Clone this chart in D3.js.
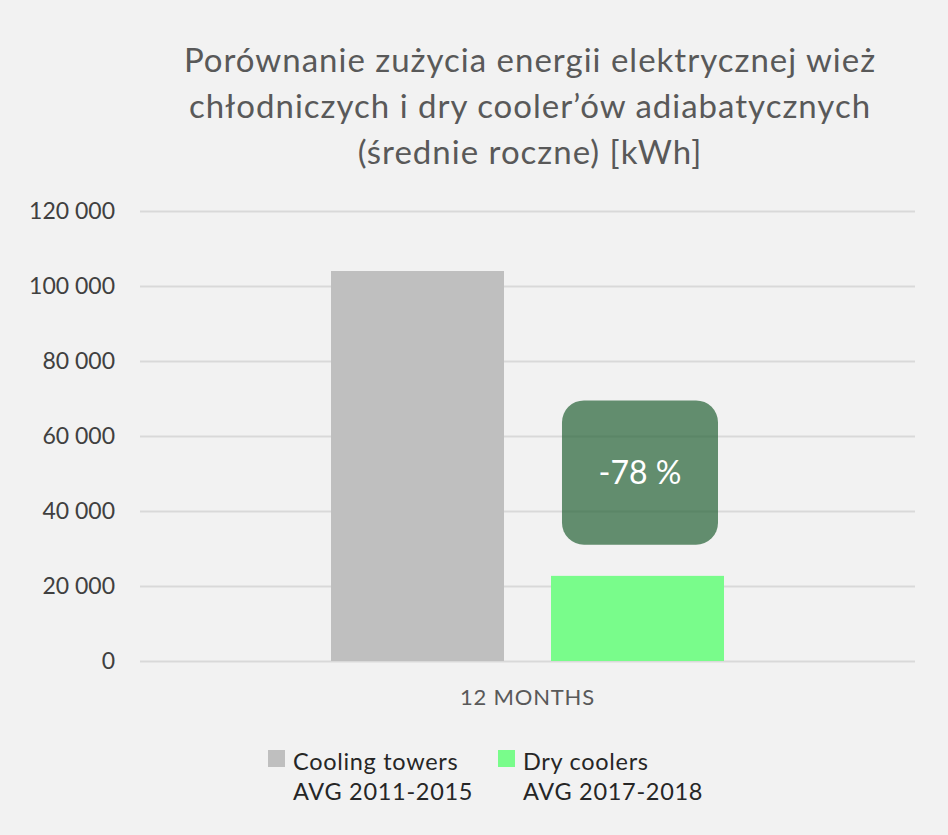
<!DOCTYPE html>
<html>
<head>
<meta charset="utf-8">
<script src="https://cdn.jsdelivr.net/npm/d3@7"></script>
<style>
  body { margin: 0; background: #f2f2f2; }
  svg { display: block; font-family: Lato, "Open Sans", sans-serif; }
</style>
</head>
<body>
<svg></svg>
<script>
// chart data
const categories = ["12 MONTHS"];
const seriesNames = ["Cooling towers", "Dry coolers"];
const seriesSub = ["AVG 2011-2015", "AVG 2017-2018"];
const seriesValues = [104000, 22700];
const seriesColors = ["#bfbfbf", "#79fc8b"];
const yTicks = [0, 20000, 40000, 60000, 80000, 100000, 120000];
const titleLines = [
  "Porównanie zużycia energii elektrycznej wież",
  "chłodniczych i dry cooler’ów adiabatycznych",
  "(średnie roczne) [kWh]"
];

const W = 948, H = 835;
const margin = {top: 211, right: 33, bottom: 174, left: 140};
const width = W - margin.left - margin.right;
const height = H - margin.top - margin.bottom;

const svg = d3.select("svg")
  .attr("width", W)
  .attr("height", H);

svg.append("rect")
  .attr("width", W)
  .attr("height", H)
  .attr("fill", "#f2f2f2");

// title
svg.append("text")
  .attr("text-anchor", "middle")
  .attr("fill", "#595959")
  .style("font-size", "33px")
  .style("letter-spacing", "1px")
  .selectAll("tspan")
  .data(titleLines)
  .enter()
  .append("tspan")
  .attr("x", 530)
  .attr("y", (d, i) => 72 + i * 46)
  .text(d => d);

const g = svg.append("g")
  .attr("transform", `translate(${margin.left},${margin.top})`);

const y = d3.scaleLinear()
  .domain([0, 120000])
  .range([height, 0]);

const x0 = d3.scaleBand()
  .domain(categories)
  .range([0, width])
  .paddingOuter(0.486);

const x1 = d3.scaleBand()
  .domain(seriesNames)
  .range([0, x0.bandwidth()])
  .paddingInner(0.2136);

// gridlines + y labels
const yAxis = g.append("g")
  .call(d3.axisLeft(y)
    .tickValues(yTicks)
    .tickSize(-width)
    .tickPadding(25)
    .tickFormat(d => d3.format(",")(d).replace(/,/g, " ")));

yAxis.select(".domain").remove();
yAxis.selectAll(".tick line")
  .attr("stroke", "#d9d9d9")
  .attr("stroke-width", 2);
yAxis.selectAll(".tick text")
  .attr("fill", "#404040")
  .style("font-size", "23px")
  .style("font-family", "Lato, 'Open Sans', sans-serif");

// bars
const rows = seriesNames.map((name, i) => ({name, value: seriesValues[i], color: seriesColors[i]}));

const groups = g.selectAll(".cat")
  .data(categories)
  .enter()
  .append("g")
  .attr("class", "cat")
  .attr("transform", d => `translate(${x0(d)},0)`);

groups.selectAll("rect")
  .data(rows)
  .enter()
  .append("rect")
  .attr("x", d => x1(d.name))
  .attr("width", x1.bandwidth())
  .attr("y", d => y(d.value))
  .attr("height", d => height - y(d.value))
  .attr("fill", d => d.color);

// category label
g.append("g")
  .attr("transform", `translate(0,${height})`)
  .selectAll("text")
  .data(categories)
  .enter()
  .append("text")
  .attr("x", d => x0(d) + x0.bandwidth() / 2)
  .attr("y", 44)
  .attr("text-anchor", "middle")
  .attr("fill", "#595959")
  .style("font-size", "22px")
  .style("letter-spacing", "0.8px")
  .text(d => d);

// change badge over second bar
const change = Math.round((seriesValues[1] - seriesValues[0]) / seriesValues[0] * 100);
const bx = x0(categories[0]) + x1(seriesNames[1]) + 11;
const bw = x1.bandwidth() - 17;
const by = y(69500), bh = y(31000) - y(69500);

g.append("rect")
  .attr("x", bx)
  .attr("y", by)
  .attr("width", bw)
  .attr("height", bh)
  .attr("rx", 22)
  .attr("fill", "#2a653a")
  .attr("fill-opacity", 0.72);

g.append("text")
  .attr("x", bx + bw / 2)
  .attr("y", by + bh / 2 + 11)
  .attr("text-anchor", "middle")
  .attr("fill", "#ffffff")
  .style("font-size", "32px")
  .text(`${change} %`);

// legend
const legend = svg.append("g")
  .attr("transform", "translate(268,750)");

const items = legend.selectAll(".item")
  .data(rows)
  .enter()
  .append("g")
  .attr("class", "item")
  .attr("transform", (d, i) => `translate(${i * 230},0)`);

items.append("rect")
  .attr("width", 17)
  .attr("height", 17)
  .attr("fill", d => d.color);

items.append("text")
  .attr("fill", "#262626")
  .style("font-size", "23.5px")
  .style("letter-spacing", "0.7px")
  .selectAll("tspan")
  .data((d, i) => [d.name, seriesSub[i]])
  .enter()
  .append("tspan")
  .attr("x", 25)
  .attr("y", (d, i) => 20 + i * 30)
  .text(d => d);
</script>
</body>
</html>
